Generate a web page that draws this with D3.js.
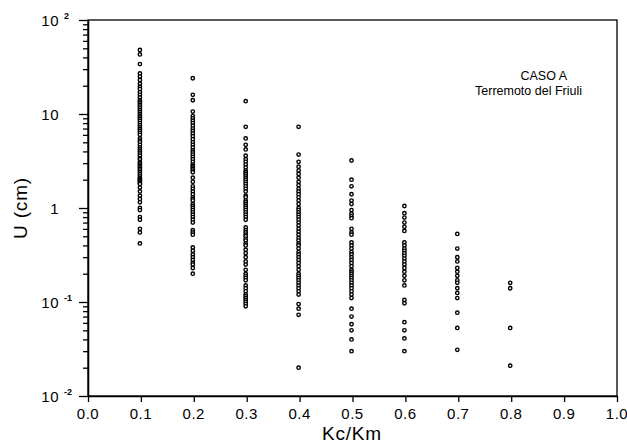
<!DOCTYPE html>
<html>
<head>
<meta charset="utf-8">
<script src="https://cdn.jsdelivr.net/npm/d3@7"></script>
<style>
  body { margin: 0; background: #fff; }
  svg { display: block; font-family: "Liberation Sans", Arial, sans-serif; }
  .axis path, .axis line { stroke: #000; stroke-width: 1.3; }
  .axis text { display: none; }
</style>
</head>
<body>
<svg id="chart" width="627" height="445"></svg>
<script>
// x categories (Kc/Km) and the U (cm) values
var kc = [0.1, 0.2, 0.3, 0.4, 0.5, 0.6, 0.7, 0.8];

var u01 = [48, 43, 34, 27, 25, 23, 21, 19.5, 18.5, 17, 16, 15, 14, 13.5, 13, 12.5, 12, 11.5, 11, 10.5,
  10, 9.6, 9.2, 8.8, 8.4, 8, 7.6, 7.2, 6.9, 6.6, 6.3, 6, 5.5, 5.2, 5, 4.7, 4.4, 4.2, 4, 3.8, 3.6,
  3.4, 3.3, 3.1, 3, 2.9, 2.8, 2.7, 2.6, 2.5, 2.4, 2.3, 2.2, 2.1, 2.05, 2, 1.95, 1.9, 1.85, 1.8,
  1.65, 1.5, 1.35, 1.25, 1.15, 1.0, 0.95, 0.8, 0.75, 0.6, 0.55, 0.42];
var u02 = [24, 16, 14, 10.6, 9.5, 9, 8.5, 8, 7.5, 7, 6.6, 6.2, 5.8, 5.4, 5, 4.7, 4.4, 4.1, 3.9, 3.7,
  3.5, 3.3, 3.1, 2.9, 2.8, 2.7, 2.6, 2.5, 2.4, 2.1, 1.9, 1.7, 1.6, 1.5, 1.4, 1.3, 1.25, 1.2, 1.1,
  1.05, 1.0, 0.95, 0.9, 0.85, 0.8, 0.75, 0.7, 0.58, 0.55, 0.52, 0.38, 0.35, 0.32, 0.3, 0.28, 0.26,
  0.25, 0.23, 0.2];
var u03 = [13.7, 7.3, 5.5, 4.7, 4.2, 3.6, 3.3, 3.1, 2.9, 2.7, 2.5, 2.4, 2.3, 2.2, 2.1, 2.0, 1.9, 1.8,
  1.7, 1.6, 1.5, 1.35, 1.3, 1.2, 1.15, 1.1, 1.05, 1.0, 0.95, 0.9, 0.85, 0.8, 0.75, 0.62, 0.58, 0.55,
  0.52, 0.5, 0.47, 0.45, 0.42, 0.4, 0.36, 0.33, 0.3, 0.27, 0.25, 0.22, 0.2, 0.19, 0.18, 0.17, 0.15,
  0.14, 0.13, 0.12, 0.115, 0.11, 0.105, 0.1, 0.095, 0.09];
var u04 = [7.3, 3.7, 3.1, 2.75, 2.5, 2.3, 2.1, 1.9, 1.75, 1.6, 1.5, 1.4, 1.3, 1.2, 1.1, 1.0, 0.95,
  0.9, 0.85, 0.8, 0.75, 0.7, 0.65, 0.6, 0.56, 0.52, 0.48, 0.45, 0.42, 0.4, 0.37, 0.34, 0.32, 0.3,
  0.28, 0.26, 0.24, 0.22, 0.2, 0.19, 0.18, 0.17, 0.16, 0.15, 0.14, 0.13, 0.12, 0.095, 0.085, 0.073,
  0.02];
var u05 = [3.2, 2.0, 1.7, 1.4, 1.2, 1.1, 0.95, 0.87, 0.82, 0.78, 0.6, 0.55, 0.52, 0.43, 0.4, 0.37,
  0.34, 0.32, 0.3, 0.28, 0.26, 0.24, 0.22, 0.21, 0.2, 0.19, 0.18, 0.17, 0.16, 0.15, 0.14, 0.13,
  0.12, 0.11, 0.085, 0.07, 0.058, 0.05, 0.04, 0.03];
var u06 = [1.05, 0.88, 0.79, 0.7, 0.63, 0.57, 0.43, 0.4, 0.37, 0.35, 0.33, 0.31, 0.29, 0.27, 0.25,
  0.23, 0.21, 0.19, 0.17, 0.15, 0.105, 0.097, 0.061, 0.05, 0.041, 0.03];
var u07 = [0.53, 0.37, 0.3, 0.27, 0.23, 0.21, 0.19, 0.17, 0.16, 0.14, 0.125, 0.11, 0.077, 0.053, 0.031];
var u08 = [0.16, 0.14, 0.053, 0.021];

var columns = [u01, u02, u03, u04, u05, u06, u07, u08];

var xTicks = [0.0, 0.1, 0.2, 0.3, 0.4, 0.5, 0.6, 0.7, 0.8, 0.9, 1.0];
var yMajor = [100, 10, 1, 0.1, 0.01];
var yBase = ["10", "10", "1", "10", "10"];
var yExp = ["2", "", "", "-1", "-2"];

var mLeft = 88, mTop = 20, mRight = 617, mBottom = 396;

var svg = d3.select("#chart");

var x = d3.scaleLinear().domain([0, 1]).range([mLeft, mRight]);
var y = d3.scaleLog().domain([0.01, 100]).range([mBottom, mTop]);

// frame
svg.append("rect")
  .attr("x", mLeft).attr("y", mTop)
  .attr("width", mRight - mLeft).attr("height", mBottom - mTop)
  .attr("fill", "none").attr("stroke", "#000").attr("stroke-width", 1.3);

// x axis
svg.append("g")
  .attr("class", "axis")
  .attr("transform", "translate(0," + mBottom + ")")
  .call(d3.axisBottom(x).tickValues(xTicks).tickSize(6).tickSizeOuter(0));

svg.append("g").selectAll("text")
  .data(xTicks)
  .enter().append("text")
  .attr("x", function(d) { return x(d); })
  .attr("y", 419)
  .attr("text-anchor", "middle")
  .attr("font-size", 15)
  .attr("letter-spacing", 0.5)
  .text(d3.format(".1f"));

// y axis: minor ticks then major ticks
var minor = y.ticks().filter(function(d) { return yMajor.indexOf(d) < 0; });
svg.append("g")
  .attr("class", "axis")
  .attr("transform", "translate(" + mLeft + ",0)")
  .call(d3.axisLeft(y).tickValues(minor).tickSize(5).tickSizeOuter(0));
svg.append("g")
  .attr("class", "axis")
  .attr("transform", "translate(" + mLeft + ",0)")
  .call(d3.axisLeft(y).tickValues(yMajor).tickSize(9).tickSizeOuter(0));

var yl = svg.append("g").selectAll("g")
  .data(yMajor)
  .enter().append("g");

yl.append("text")
  .attr("x", 59)
  .attr("y", function(d) { return y(d) + 6; })
  .attr("text-anchor", "end")
  .attr("font-size", 15)
  .attr("letter-spacing", 0.5)
  .text(function(d, i) { return yBase[i]; });

yl.append("text")
  .attr("x", 64)
  .attr("y", function(d) { return y(d) - 1; })
  .attr("font-size", 9)
  .attr("font-weight", "bold")
  .text(function(d, i) { return yExp[i]; });

// axis titles
svg.append("text")
  .attr("x", 352).attr("y", 440)
  .attr("text-anchor", "middle")
  .attr("font-size", 19)
  .attr("letter-spacing", 0.8)
  .text("Kc/Km");

svg.append("text")
  .attr("transform", "translate(27," + y(1) + ") rotate(-90)")
  .attr("text-anchor", "middle")
  .attr("font-size", 19)
  .attr("letter-spacing", 0.8)
  .text("U (cm)");

// annotation
svg.append("text")
  .attr("x", 567).attr("y", 80)
  .attr("text-anchor", "end")
  .attr("font-size", 12.5)
  .text("CASO A");
svg.append("text")
  .attr("x", 582).attr("y", 95)
  .attr("text-anchor", "end")
  .attr("font-size", 12.5)
  .text("Terremoto del Friuli");

// points
var pts = [];
columns.forEach(function(col, i) {
  col.forEach(function(v) { pts.push({ k: kc[i], u: v }); });
});

svg.append("g").selectAll("circle")
  .data(pts)
  .enter().append("circle")
  .attr("cx", function(d) { return x(d.k) - 1; })
  .attr("cy", function(d) { return y(d.u); })
  .attr("r", 1.7)
  .attr("fill", "#fff")
  .attr("stroke", "#000")
  .attr("stroke-width", 1.4);
</script>
</body>
</html>
